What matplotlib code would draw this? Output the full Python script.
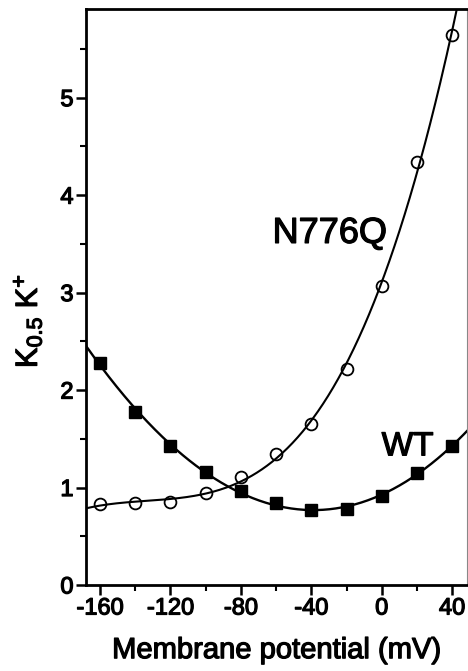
import numpy as np
import matplotlib
matplotlib.use("Agg")
import matplotlib.pyplot as plt
import matplotlib.patheffects as pe
from matplotlib.ticker import MultipleLocator

plt.rcParams['font.family'] = ['Liberation Sans', 'DejaVu Sans']
plt.rcParams['axes.unicode_minus'] = False
plt.rcParams['mathtext.fontset'] = 'custom'
plt.rcParams['mathtext.rm'] = 'Liberation Sans'
plt.rcParams['mathtext.it'] = 'Liberation Sans'

voltage = [-160, -140, -120, -100, -80, -60, -40, -20, 0, 20, 40]
wt = [2.28, 1.77, 1.43, 1.16, 0.96, 0.84, 0.77, 0.78, 0.91, 1.15, 1.43]
n776q = [0.83, 0.84, 0.85, 0.94, 1.11, 1.34, 1.65, 2.22, 3.07, 4.34, 5.64]

fig = plt.figure(figsize=(4.68, 6.71), dpi=100)
ax = fig.add_axes([0.1838, 0.1282, 0.8142, 0.8584])

# smooth fitted curves through the points
vv = np.linspace(-168, 48.5, 300)
wt_fit = np.polyval(np.polyfit(voltage, wt, 3), vv)
nq_fit = np.polyval(np.polyfit(voltage, n776q, 4), vv)
ax.plot(vv, wt_fit, color='black', lw=1.7)
ax.plot(vv, nq_fit, color='black', lw=1.5)

ax.plot(voltage, wt, ls='none', marker='s', ms=9, color='black')
ax.plot(voltage, n776q, ls='none', marker='o', ms=8.5, mfc='none',
        mec='black', mew=1.3)

thick = [pe.withStroke(linewidth=0.9, foreground='black')]
ax.text(-62, 3.51, 'N776Q', fontsize=26, ha='left', va='baseline',
        path_effects=thick)
ax.text(0, 1.33, 'WT', fontsize=24, ha='left', va='baseline',
        path_effects=thick)

ax.set_xlim(-168, 48.5)
ax.set_ylim(0, 5.91)
ax.xaxis.set_major_locator(MultipleLocator(40))
ax.xaxis.set_minor_locator(MultipleLocator(20))
ax.yaxis.set_major_locator(MultipleLocator(1))
ax.yaxis.set_minor_locator(MultipleLocator(0.5))
ax.tick_params(which='major', direction='out', length=7, width=1.8,
               labelsize=17, pad=2)
ax.tick_params(which='minor', direction='out', length=4, width=1.5)
for lab in ax.get_xticklabels() + ax.get_yticklabels():
    lab.set_path_effects(thick)
for s in ['left', 'bottom', 'top']:
    ax.spines[s].set_linewidth(2)
ax.spines['right'].set_linewidth(0.8)
ax.spines['right'].set_color('#888888')

ax.set_xlabel('Membrane potential (mV)', fontsize=21, labelpad=12,
              path_effects=thick)
ax.set_ylabel(r'K$_{0.5}$ K$^{+}$', fontsize=22, path_effects=thick)
ax.yaxis.set_label_coords(-0.11, 0.458)

fig.savefig('out.png', dpi=100)
